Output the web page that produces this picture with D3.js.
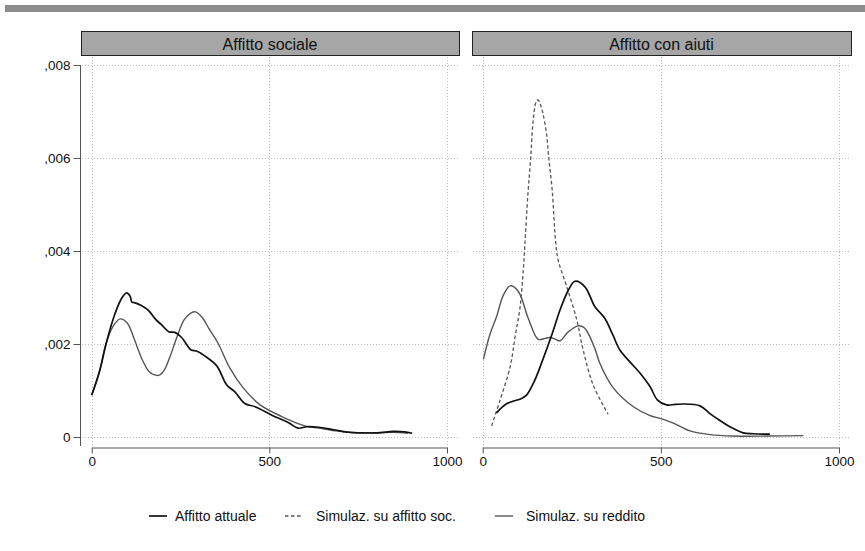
<!DOCTYPE html>
<html>
<head>
<meta charset="utf-8">
<script src="https://cdn.jsdelivr.net/npm/d3@7"></script>
<style>
  body { margin: 0; background: #fff; }
  svg { font-family: "Liberation Sans", Arial, sans-serif; }
</style>
</head>
<body>
<div id="chart"></div>
<script>
// panel titles and legend
const panels = ["Affitto sociale", "Affitto con aiuti"];
const seriesNames = ["Affitto attuale", "Simulaz. su affitto soc.", "Simulaz. su reddito"];
const xTicks = [0, 500, 1000];
const yTicks = [0, 0.002, 0.004, 0.006, 0.008];

// density estimates, [rent, density]
const socialeAttuale = [[0,.0009],[23,.00144],[42,.00205],[66,.00266],[84,.00298],[98,.0031],[108,.00303],[113,.0029],[120,.00289],[141,.00282],[159,.00273],[180,.00253],[197,.00241],[218,.00226],[234,.00225],[253,.00214],[280,.00187],[295,.00185],[319,.00174],[352,.00153],[380,.00112],[403,.00097],[431,.00072],[460,.00065],[507,.00047],[553,.00031],[581,.00019],[605,.00022],[638,.00021],[685,.00015],[727,.0001],[802,.00009],[849,.00012],[880,.00011],[902,.00008]];
const socialeReddito = [[0,.0009],[20,.00135],[40,.002],[60,.00238],[80,.00254],[100,.00245],[120,.0021],[140,.0017],[160,.00142],[175,.00134],[190,.00133],[205,.00145],[220,.00172],[240,.00215],[260,.00252],[280,.00267],[292,.00269],[310,.00258],[330,.00233],[356,.00201],[389,.00148],[427,.00105],[474,.00069],[535,.00044],[600,.00024],[640,.00019],[685,.000135],[727,.0001],[800,.00009],[850,.0001],[890,.00008]];

const aiutiAttuale = [[39,.00052],[66,.00071],[109,.00083],[123,.0009],[145,.0012],[170,.00169],[195,.00222],[217,.00273],[240,.00315],[259,.00335],[287,.00323],[315,.0028],[343,.00255],[365,.0022],[385,.00187],[415,.0016],[442,.00137],[470,.00108],[490,.0008],[516,.00069],[540,.0007],[563,.00071],[610,.00067],[635,.00052],[657,.0004],[694,.00022],[731,.00009],[760,.00007],[806,.00006]];
const aiutiAffittoSoc = [[25,.00024],[49,.0008],[77,.00151],[91,.00216],[105,.0028],[114,.0036],[118,.00409],[127,.00524],[135,.00603],[141,.00675],[150,.00721],[155,.00725],[162,.00715],[169,.00696],[179,.00653],[185,.00603],[195,.00531],[205,.00417],[212,.0038],[236,.00323],[264,.00252],[282,.00187],[310,.00112],[352,.00049]];
const aiutiReddito = [[2,.00167],[20,.0022],[39,.00259],[58,.00305],[77,.00325],[100,.00313],[128,.00255],[156,.0021],[175,.00212],[189,.00214],[205,.0021],[217,.00207],[240,.00226],[268,.00239],[285,.00235],[296,.00223],[315,.0019],[329,.00158],[367,.00105],[423,.00065],[470,.00046],[498,.0004],[535,.0003],[582,.00013],[638,.00005],[700,.00002],[800,.00002],[900,.00003]];

const W = 865, H = 551;
const styles = [
  { stroke: "#111", width: 1.7, dash: null },
  { stroke: "#555", width: 1.3, dash: "3.5,2.5" },
  { stroke: "#555", width: 1.4, dash: null }
];

const panelData = [
  { title: panels[0], box: [81, 459], range: [91.7, 447], series: [[0, socialeAttuale], [2, socialeReddito]], yAxis: true },
  { title: panels[1], box: [472, 851], range: [482.7, 839], series: [[0, aiutiAttuale], [1, aiutiAffittoSoc], [2, aiutiReddito]], yAxis: false }
];

const svg = d3.select("#chart").append("svg")
  .attr("width", W).attr("height", H);

// top band
svg.append("rect").attr("x", 5).attr("y", 5).attr("width", W - 5).attr("height", 7).attr("fill", "#8c8c8c");

const y = d3.scaleLinear().domain([0, 0.008]).range([437, 65]);
const yFmt = d => d === 0 ? "0" : "," + d.toFixed(3).slice(2);

panelData.forEach(p => {
  const x = d3.scaleLinear().domain([0, 1000]).range(p.range);
  const g = svg.append("g");

  // header strip
  g.append("rect")
    .attr("x", p.box[0] + 0.5).attr("y", 31.5)
    .attr("width", p.box[1] - p.box[0]).attr("height", 24)
    .attr("fill", "#a6a6a6").attr("stroke", "#222").attr("stroke-width", 1);
  g.append("text")
    .attr("x", (p.box[0] + p.box[1]) / 2).attr("y", 44)
    .attr("text-anchor", "middle").attr("dominant-baseline", "central")
    .attr("font-size", 16).attr("fill", "#111")
    .text(p.title);

  // dotted grid
  const grid = g.append("g").attr("stroke", "#bdbdbd").attr("stroke-width", 1).attr("stroke-dasharray", "1,2");
  grid.selectAll("line.h").data(yTicks).join("line")
    .attr("x1", p.box[0] + 1).attr("x2", p.box[1])
    .attr("y1", d => Math.round(y(d)) + 0.5).attr("y2", d => Math.round(y(d)) + 0.5);
  grid.selectAll("line.v").data(xTicks).join("line")
    .attr("x1", d => Math.round(x(d)) + 0.5).attr("x2", d => Math.round(x(d)) + 0.5)
    .attr("y1", 57).attr("y2", 446);

  // x axis
  const xa = g.append("g").attr("transform", "translate(0,447.5)")
    .call(d3.axisBottom(x).tickValues(xTicks).tickFormat(d3.format("d")).tickSize(6).tickSizeOuter(0));
  xa.selectAll("text").attr("font-size", 13.5).attr("fill", "#111").attr("font-family", "Liberation Sans, Arial, sans-serif");

  if (p.yAxis) {
    const ya = g.append("g").attr("transform", "translate(80.5,0)")
      .call(d3.axisLeft(y).tickValues(yTicks).tickFormat(yFmt).tickSize(7).tickSizeOuter(0));
    ya.select(".domain").attr("d", `M0,${y(0.008)}V446`);
    ya.selectAll("text").attr("font-size", 13.5).attr("fill", "#111").attr("font-family", "Liberation Sans, Arial, sans-serif");
  }
  g.selectAll(".domain, .tick line").attr("stroke", "#555");

  const line = d3.line().x(d => x(d[0])).y(d => y(d[1])).curve(d3.curveCatmullRom.alpha(0.5));
  // draw order: reddito first, then dashed, then actual on top
  p.series.slice().sort((a, b) => b[0] - a[0]).forEach(([si, data]) => {
    const s = styles[si];
    g.append("path").datum(data)
      .attr("d", line)
      .attr("fill", "none")
      .attr("stroke", s.stroke)
      .attr("stroke-width", s.width)
      .attr("stroke-dasharray", s.dash)
      .attr("stroke-linejoin", "round");
  });
});

// legend
const legendPos = [[149, 175], [285, 316], [495, 526]];
const lg = svg.append("g").attr("transform", "translate(0,516)");
seriesNames.forEach((name, i) => {
  const s = styles[i];
  lg.append("line")
    .attr("x1", legendPos[i][0]).attr("x2", legendPos[i][0] + 18)
    .attr("y1", 0).attr("y2", 0)
    .attr("stroke", s.stroke).attr("stroke-width", s.width)
    .attr("stroke-dasharray", s.dash);
  lg.append("text")
    .attr("x", legendPos[i][1]).attr("y", 0)
    .attr("dominant-baseline", "central")
    .attr("font-size", 14).attr("fill", "#111")
    .text(name);
});
</script>
</body>
</html>
